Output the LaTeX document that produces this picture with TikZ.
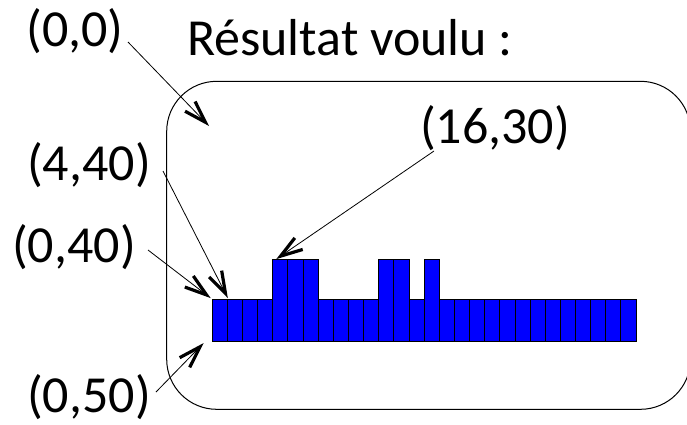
\documentclass[tikz,border=0pt]{standalone}
\usepackage{fontspec}
\setmainfont{Carlito}
\usetikzlibrary{arrows.meta}

\tikzset{
  lbl/.style={inner sep=0pt, font=\fontsize{52}{52}\selectfont},
  ttl/.style={inner sep=0pt, font=\fontsize{52}{52}\selectfont},
  bar/.style={draw=black, line width=0.9pt, fill={rgb,255:red,0;green,0;blue,255},
    inner sep=0pt, minimum width=15.14pt, anchor=south west},
  lowbar/.style={bar, minimum height=42pt},
  tallbar/.style={bar, minimum height=82pt},
  ptr/.style={line width=0.8pt,
    -{Straight Barb[length=22pt, width=14pt, line width=3.2pt]}},
  frame/.style={draw=black, line width=1pt, rounded corners=50pt}
}

\begin{document}
\begin{tikzpicture}[x=1pt, y=-1pt]
  \useasboundingbox (0,0) rectangle (687,424);

  % outer frame (right side runs past the edge)
  \draw[frame] (166.7,81.3) rectangle (690.5,409.3);

  % row of bars: 28 columns, tall ones at 4,5,6,11,12,14
  \foreach \i in {0,...,27} {
    \pgfmathsetmacro\xx{211.7+15.14*\i}
    \ifnum\i=4 \def\kind{tallbar}\else
    \ifnum\i=5 \def\kind{tallbar}\else
    \ifnum\i=6 \def\kind{tallbar}\else
    \ifnum\i=11 \def\kind{tallbar}\else
    \ifnum\i=12 \def\kind{tallbar}\else
    \ifnum\i=14 \def\kind{tallbar}\else
    \def\kind{lowbar}\fi\fi\fi\fi\fi\fi
    \node[\kind] (b\i) at (\xx,342) {};
  }

  % labels
  \node[ttl] (title) at (350,38) {Résultat voulu :};
  \node[lbl] (l00) at (75,31) {(0,0)};
  \node[lbl] (l1630) at (495,128) {(16,30)};
  \node[lbl] (l440) at (89,165) {(4,40)};
  \node[lbl] (l040) at (74,247) {(0,40)};
  \node[lbl] (l050) at (89,397) {(0,50)};

  \coordinate (origin) at (209,126);

  % pointers
  \draw[ptr] ([shift={(53,11)}]l00.center) -- (origin);
  \draw[ptr] ([shift={(-61,23)}]l1630.center) -- ([shift={(4,0)}]b4.north west);
  \draw[ptr] ([shift={(74,6)}]l440.center) -- ([shift={(1,-1)}]b1.north west);
  \draw[ptr] ([shift={(74,3)}]l040.center) -- ([shift={(-1,-1)}]b0.north west);
  \draw[ptr] ([shift={(67,-5)}]l050.center) -- ([shift={(-8,1)}]b0.south west);
\end{tikzpicture}
\end{document}
